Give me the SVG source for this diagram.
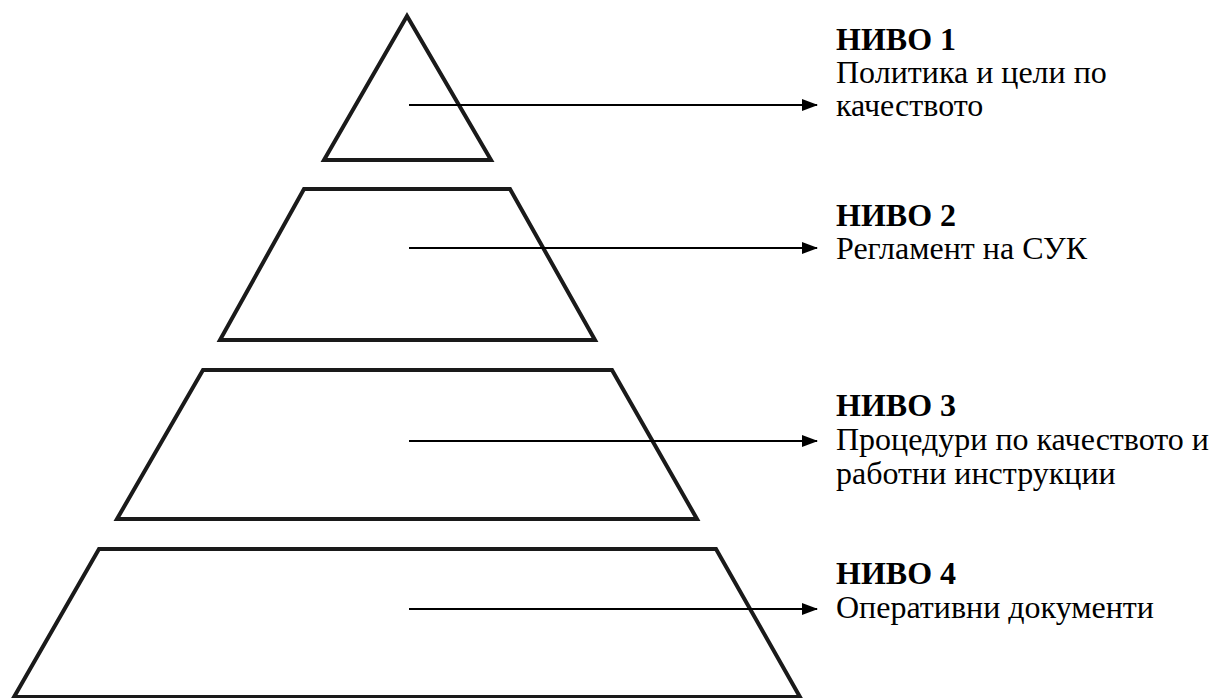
<svg xmlns="http://www.w3.org/2000/svg" width="1216" height="698" viewBox="0 0 1216 698">
<style>
.lvl{fill:none;stroke:#1a1a1a;stroke-width:4;stroke-linejoin:miter}
.arr{stroke:#000;stroke-width:2;fill:none}
.t{font-family:"Liberation Serif","Times New Roman",serif;font-size:32px;fill:#000}
.b{font-weight:bold}
</style>
<defs>
<marker id="ah" markerWidth="8" markerHeight="6" refX="7.5" refY="3" orient="auto" markerUnits="strokeWidth">
<path d="M0,0 L8,3 L0,6 Z" fill="#000"/>
</marker>
</defs>
<rect width="1216" height="698" fill="#fff"/>
<g id="level1"><polygon class="lvl" points="407,16 324,160 491,160"/></g>
<g id="level2"><polygon class="lvl" points="304,189 510,189 595,340 220,340"/></g>
<g id="level3"><polygon class="lvl" points="203,370 612,370 697,519 117,519"/></g>
<g id="level4"><polygon class="lvl" points="99,549 716,549 800,697 14,697"/></g>
<g id="connectors">
<line class="arr" x1="409" y1="105" x2="817" y2="105" marker-end="url(#ah)"/>
<line class="arr" x1="409" y1="248" x2="817" y2="248" marker-end="url(#ah)"/>
<line class="arr" x1="409" y1="441" x2="817" y2="441" marker-end="url(#ah)"/>
<line class="arr" x1="409" y1="609" x2="817" y2="609" marker-end="url(#ah)"/>
</g>
<g id="label1">
<text class="t b" x="836" y="50">НИВО 1</text>
<text class="t" x="836" y="83">Политика и цели по</text>
<text class="t" x="836" y="116">качеството</text>
</g>
<g id="label2">
<text class="t b" x="836" y="226">НИВО 2</text>
<text class="t" x="836" y="259">Регламент на СУК</text>
</g>
<g id="label3">
<text class="t b" x="836" y="416">НИВО 3</text>
<text class="t" x="836" y="450">Процедури по качеството и</text>
<text class="t" x="836" y="484">работни инструкции</text>
</g>
<g id="label4">
<text class="t b" x="836" y="584">НИВО 4</text>
<text class="t" x="836" y="618">Оперативни документи</text>
</g>
</svg>
